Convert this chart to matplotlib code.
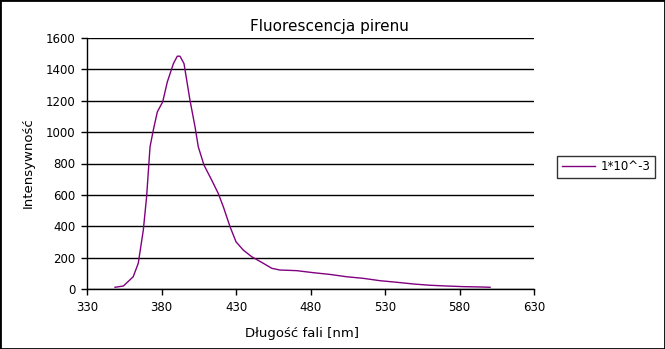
import matplotlib
matplotlib.use('Agg')
import matplotlib.pyplot as plt
from matplotlib.patches import Rectangle

# wavelength [nm] and intensity
wavelength = [348.8, 354.4, 361.0, 364.4, 367.8, 370.0, 372.3, 374.5, 377.2, 380.8,
              383.9, 388.0, 390.6, 392.4, 395.1, 399.1, 402.5, 404.7, 408.5, 413.7,
              418.1, 421.5, 426.0, 430.0, 434.9, 440.5, 448.3, 454.0, 459.5, 470.7,
              481.9, 493.0, 504.3, 515.4, 526.6, 537.8, 549.0, 560.0, 571.4, 582.6,
              593.8, 600.5]
intensity = [11, 19, 78, 164, 376, 588, 906, 1013, 1129, 1193,
             1320, 1437, 1484, 1484, 1437, 1204, 1034, 906, 790, 694,
             609, 524, 397, 301, 248, 206, 164, 132, 121, 117,
             104, 93, 78, 68, 53, 43, 32, 24, 19, 15,
             13, 11]

series_label = '1*10^-3'
x_ticks = [330, 380, 430, 480, 530, 580, 630]
y_ticks = [0, 200, 400, 600, 800, 1000, 1200, 1400, 1600]

plt.rcParams['font.family'] = 'DejaVu Sans'

fig = plt.figure(figsize=(6.65, 3.49), dpi=100)
ax = fig.add_axes([87 / 665, 60 / 349, 447 / 665, 251 / 349])

line, = ax.plot(wavelength, intensity, color='#800080', linewidth=1.0, label=series_label)

ax.set_xlim(330, 630)
ax.set_ylim(0, 1600)
ax.set_xticks(x_ticks)
ax.set_yticks(y_ticks)
ax.tick_params(axis='both', labelsize=8.5, length=4.3, width=1, color='black',
               direction='out', pad=4)
ax.yaxis.grid(True, color='black', linewidth=1)
ax.set_axisbelow(True)
for side in ['top', 'right']:
    ax.spines[side].set_visible(False)
for side in ['left', 'bottom']:
    ax.spines[side].set_linewidth(1)
    ax.spines[side].set_color('black')

fig.text(329 / 665, 1 - 27 / 349, 'Fluorescencja pirenu', ha='center', va='center',
         fontsize=11)
fig.text(302 / 665, 1 - 333 / 349, 'Długość fali [nm]', ha='center', va='center', fontsize=9.5)
fig.text(28 / 665, 1 - 163 / 349, 'Intensywność', ha='center', va='center',
         rotation=90, fontsize=9.5)

leg = fig.legend(handles=[line], loc='center left', bbox_to_anchor=(557 / 665, 1 - 167 / 349),
                 fontsize=8.5, frameon=True, fancybox=False, handlelength=2.8,
                 borderpad=0.4, borderaxespad=0, handletextpad=0.5)
leg.get_frame().set_edgecolor('black')
leg.get_frame().set_linewidth(1)

fig.patches.append(Rectangle((0, 0), 1, 1, transform=fig.transFigure, fill=False,
                             edgecolor='black', linewidth=2))

fig.savefig('out.png', dpi=100)
